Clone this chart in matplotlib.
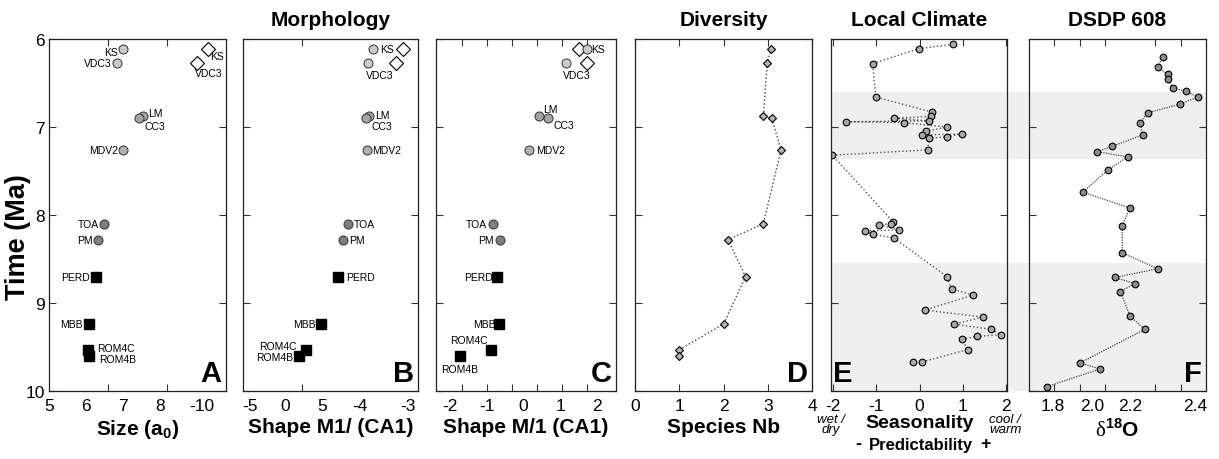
import matplotlib
matplotlib.use("Agg")
import matplotlib.pyplot as plt

plt.rcParams['font.family'] = ['Liberation Sans', 'DejaVu Sans']
plt.rcParams['axes.unicode_minus'] = False
plt.rcParams['mathtext.fontset'] = 'custom'
plt.rcParams['mathtext.rm'] = 'Liberation Serif'
plt.rcParams['mathtext.bf'] = 'Liberation Sans:bold'

# ---- data ----
sites = ['KS', 'VDC3', 'LM', 'CC3', 'MDV2', 'TOA', 'PM', 'PERD', 'MBB', 'ROM4C', 'ROM4B']
age = [6.11, 6.27, 6.88, 6.90, 7.26, 8.10, 8.28, 8.70, 9.24, 9.53, 9.60]
size_a0 = [7.02, 6.85, 7.55, 7.45, 7.00, 6.50, 6.32, 6.27, 6.08, 6.07, 6.08]
shape_b = [-3.68, -3.80, -3.78, -3.85, -3.83, -4.30, -4.43, -4.55, -4.98, -5.35, -5.53]
shape_c = [1.72, 1.15, 0.42, 0.66, 0.15, -0.84, -0.64, -0.73, -0.66, -0.87, -1.73]
site_kind = ['light', 'light', 'mid', 'mid', 'mid2', 'dark', 'dark', 'sq', 'sq', 'sq', 'sq']

# open diamonds (second measure for KS and VDC3)
dia_sites = ['KS', 'VDC3']
dia_age = [6.11, 6.27]
dia_a = [9.30, 9.02]
dia_b = [-2.93, -3.10]
dia_c = [1.52, 1.74]

# diversity
species_nb = [3.08, 2.99, 2.90, 3.09, 3.30, 2.90, 2.10, 2.50, 2.00, 1.00, 1.00]

# local climate
clim_x = [0.77, -0.02, -1.09, -1.01, 0.28, 0.26, -0.60, 0.21, -1.71, -0.37, 0.63,
          0.15, 0.06, 0.97, 0.64, 0.21, 0.19, -2.02, -0.61, -0.66, -0.93, -0.48,
          -1.27, -1.07, -0.60, 0.63, 0.74, 1.23, 0.12, 1.46, 0.80, 1.66, 1.87,
          1.32, 0.98, 1.11, 0.05, -0.16]
clim_y = [6.06, 6.11, 6.28, 6.66, 6.83, 6.88, 6.90, 6.93, 6.94, 6.95, 7.00,
          7.05, 7.09, 7.08, 7.11, 7.13, 7.26, 7.32, 8.08, 8.10, 8.11, 8.17,
          8.18, 8.22, 8.26, 8.70, 8.84, 8.91, 9.08, 9.16, 9.24, 9.30, 9.36,
          9.38, 9.41, 9.53, 9.67, 9.67]

# DSDP 608 d18O
d18o = [2.228, 2.209, 2.248, 2.248, 2.269, 2.319, 2.367, 2.298, 2.169, 2.139,
        2.149, 2.029, 1.970, 2.090, 2.011, 1.912, 2.099, 2.069, 2.069, 2.209,
        2.040, 2.119, 2.061, 2.100, 2.158, 1.902, 1.981, 1.771]
d18o_age = [6.20, 6.32, 6.40, 6.45, 6.56, 6.59, 6.66, 6.74, 6.84, 6.95,
            7.09, 7.22, 7.28, 7.34, 7.49, 7.74, 7.92, 8.12, 8.43, 8.61,
            8.71, 8.78, 8.87, 9.15, 9.30, 9.68, 9.75, 9.95]

# shaded intervals
bands = [(6.60, 7.36), (8.55, 10.0)]

# ---- styles / layout ----
fills = {'light': '#cacaca', 'mid': '#a4a4a4', 'mid2': '#b0b0b0', 'dark': '#7e7e7e', 'sq': 'black'}
W, H = 1219, 460
px_lr = [(49, 226), (243, 418), (436, 616), (635, 812), (831, 1007), (1029, 1206)]
top_px, bot_px = 40, 392

lab_a = [(-6, -3, 'right'), (-6, 0, 'right'), (5, 3, 'left'), (5, -8, 'left'), (-5, 0, 'right'),
         (-5, 0, 'right'), (-5, 0, 'right'), (-6, 0, 'right'), (-6, 0, 'right'), (9, 2, 'left'),
         (10, -3, 'left')]
lab_b = [(7, 0, 'left'), (-2, -12, 'left'), (6, 1, 'left'), (5, -8, 'left'), (5, 0, 'left'),
         (6, 0, 'left'), (6, 0, 'left'), (8, 0, 'left'), (-5, 0, 'right'), (-9, 4, 'right'),
         (-6, -1, 'right')]
lab_c = [(5, 0, 'left'), (-3, -12, 'left'), (4, 7, 'left'), (6, -7, 'left'), (7, 0, 'left'),
         (-6, 0, 'right'), (-6, 0, 'right'), (-4, 0, 'right'), (-4, 0, 'right'), (-4, 10, 'right'),
         (0, -13, 'center')]
dia_lab_a = [(3, -7, 'left'), (-2, -10, 'left')]

fig = plt.figure(figsize=(W / 100, H / 100), dpi=100)
axes = []
for l, r in px_lr:
    ax = fig.add_axes([l / W, (H - bot_px) / H, (r - l) / W, (bot_px - top_px) / H])
    axes.append(ax)
ax_a, ax_b, ax_c, ax_d, ax_e, ax_f = axes

for ax in axes:
    ax.set_ylim(10, 6)
    ax.set_yticks([6, 7, 8, 9, 10])
    ax.tick_params(axis='both', which='both', direction='in', top=True, bottom=True,
                   left=True, right=True, length=5, width=0.8, labelsize=12.5, pad=3,
                   color='#333333')
    ax.tick_params(axis='x', pad=5)
    for s in ax.spines.values():
        s.set_linewidth(0.9)
        s.set_color('#222222')
    if ax is not ax_a:
        ax.set_yticklabels([])


def morpho(ax, xs, dxs, labs, dlabs=None):
    for x, y, n in zip(dxs, dia_age, dia_sites):
        ax.plot(x, y, marker='D', ms=7, mfc='white', mec='black', mew=0.8, ls='none', zorder=3)
    for x, y, k in zip(xs, age, site_kind):
        if k == 'sq':
            ax.plot(x, y, marker='s', ms=6.5, mfc='black', mec='black', ls='none', zorder=4)
        else:
            ax.plot(x, y, marker='o', ms=6.5, mfc=fills[k], mec='#333333', mew=0.7, ls='none', zorder=4)
    for x, y, n, (dx, dy, ha) in zip(xs, age, sites, labs):
        ax.annotate(n, (x, y), xytext=(dx, dy), textcoords='offset pixels', ha=ha, va='center',
                    fontsize=7.5)
    if dlabs:
        for x, y, n, (dx, dy, ha) in zip(dxs, dia_age, dia_sites, dlabs):
            ax.annotate(n, (x, y), xytext=(dx, dy), textcoords='offset pixels', ha=ha,
                        va='center', fontsize=7.5)


def odd_ticks(ax, lab_pos, labels, marks):
    ax.set_xticks(lab_pos)
    ax.set_xticklabels(labels)
    ax.set_xticks(marks, minor=True)
    ax.tick_params(axis='x', which='major', length=0, pad=5)


# A - size
morpho(ax_a, size_a0, dia_a, lab_a, dia_lab_a)
ax_a.set_xlim(5, 9.8)
odd_ticks(ax_a, [5, 6, 7, 8, 9.15], ['5', '6', '7', '8', '-10'], [6.6, 8.2])
ax_a.set_xlabel(r'Size (a$_\mathbf{0}$)', fontsize=15, fontweight='bold', labelpad=3)
ax_a.set_ylabel('Time (Ma)', fontsize=19.5, fontweight='bold')
ax_a.yaxis.set_label_coords(-0.1, 0.44)

# B - shape M1
morpho(ax_b, shape_b, dia_b, lab_b)
ax_b.set_xlim(-6.93, -2.55)
odd_ticks(ax_b, [-6.75, -5.875, -4.95, -4.0, -2.8], ['-5', '0', '5', '-4', '-3'], [-5.45, -4.0])
ax_b.set_xlabel('Shape M1/ (CA1)', fontsize=15, fontweight='bold', labelpad=3)
ax_b.set_title('Morphology', fontsize=15, fontweight='bold', pad=10)

# C - shape M/1
morpho(ax_c, shape_c, dia_c, lab_c)
ax_c.set_xlim(-2.38, 2.52)
odd_ticks(ax_c, [-2, -1, 0, 1, 2], ['-2', '-1', '0', '1', '2'],
          [-1.67, -0.99, -0.31, 0.37, 1.05, 1.73])
ax_c.set_xlabel('Shape M/1 (CA1)', fontsize=15, fontweight='bold', labelpad=3)

# D - diversity
ax_d.plot(species_nb, age, ls=':', lw=1, color='#444444', marker='D', ms=4.5,
          mfc='#b4b4b4', mec='black', mew=0.8)
ax_d.set_xlim(0, 4)
ax_d.set_xticks([0, 1, 2, 3, 4])
ax_d.set_xlabel('Species Nb', fontsize=15, fontweight='bold', labelpad=3)
ax_d.set_title('Diversity', fontsize=15, fontweight='bold', pad=10)

# E - local climate
ax_f.set_facecolor('none')
span_frac = (px_lr[5][1] - px_lr[4][0]) / (px_lr[4][1] - px_lr[4][0])
for y0, y1 in bands:
    ax_e.axhspan(y0, y1, xmin=0, xmax=span_frac, color='#efefef', lw=0, zorder=0, clip_on=False)
ax_e.plot(clim_x, clim_y, ls=':', lw=1, color='#555555', marker='o', ms=4.8,
          mfc='#a8a8a8', mec='black', mew=0.8)
ax_e.set_xlim(-2.05, 2.02)
ax_e.set_xticks([-2, -1, 0, 1, 2])
ax_e.set_title('Local Climate', fontsize=15, fontweight='bold', pad=10)
ax_e.text(0.505, -0.09, 'Seasonality', transform=ax_e.transAxes, ha='center', va='center',
          fontsize=14, fontweight='bold')
ax_e.text(0.0, -0.094, 'wet /\ndry', transform=ax_e.transAxes, ha='center', va='center',
          fontsize=9.5, style='italic', linespacing=0.85)
ax_e.text(0.99, -0.094, 'cool /\nwarm', transform=ax_e.transAxes, ha='center', va='center',
          fontsize=9.5, style='italic', linespacing=0.85)
ax_e.text(0.51, -0.152, 'Predictability', transform=ax_e.transAxes, ha='center', va='center',
          fontsize=12, fontweight='bold')
ax_e.text(0.155, -0.148, '-', transform=ax_e.transAxes, ha='center', va='center',
          fontsize=13, fontweight='bold')
ax_e.text(0.88, -0.148, '+', transform=ax_e.transAxes, ha='center', va='center',
          fontsize=13, fontweight='bold')

# F - DSDP 608
for y0, y1 in bands:
    ax_f.axhspan(y0, y1, color='#efefef', lw=0, zorder=0)
ax_f.plot(d18o, d18o_age, ls=(0, (1, 1)), lw=0.9, color='#444444', marker='o', ms=4.8,
          mfc='#8c8c8c', mec='black', mew=0.8)
ax_f.set_xlim(1.70, 2.40)
odd_ticks(ax_f, [1.795, 1.949, 2.10, 2.357], ['1.8', '2.0', '2.2', '2.4'],
          [1.8, 1.9, 2.0, 2.1, 2.2, 2.3])
ax_f.set_xlabel(r'$\mathrm{\delta}^{\mathbf{18}}$O', fontsize=15, fontweight='bold', labelpad=3)
ax_f.set_title('DSDP 608', fontsize=15, fontweight='bold', pad=10)

# panel letters
for ax, letter in zip(axes, 'ABCDEF'):
    if letter == 'E':
        ax.text(0.012, 0.012, letter, transform=ax.transAxes, ha='left', va='bottom',
                fontsize=21, fontweight='bold')
    else:
        ax.text(0.975, 0.012, letter, transform=ax.transAxes, ha='right', va='bottom',
                fontsize=21, fontweight='bold')

fig.savefig('out.png', dpi=100)
